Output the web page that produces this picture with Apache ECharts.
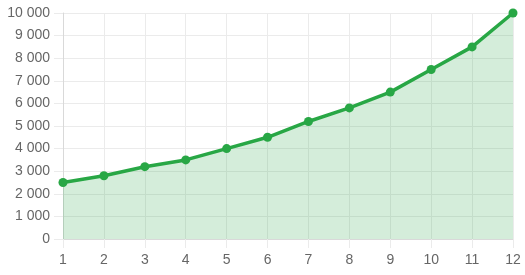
<!DOCTYPE html>
<html>
<head>
<meta charset="utf-8">
<script src="https://cdn.jsdelivr.net/npm/echarts@6/dist/echarts.min.js"></script>
<style>html,body{margin:0;padding:0;background:#fff;}#c{width:525px;height:275px;}</style>
</head>
<body>
<div id="c"></div>
<script>
const categories = ['1','2','3','4','5','6','7','8','9','10','11','12'];
const values = [2500, 2800, 3200, 3500, 4000, 4500, 5200, 5800, 6500, 7500, 8500, 10000];
const yMin = 0, yMax = 10000, yStep = 1000;

const gridColor = '#ebebeb';
const chart = echarts.init(document.getElementById('c'), null, {renderer: 'canvas'});
chart.setOption({
  animation: false,
  grid: {left: 63, right: 12, top: 13, bottom: 36, containLabel: false},
  xAxis: {
    type: 'category',
    data: categories,
    boundaryGap: false,
    axisLine: {show: true, lineStyle: {color: '#d9d9d9', width: 1}},
    axisTick: {show: true, length: 9, lineStyle: {color: gridColor}},
    splitLine: {show: true, lineStyle: {color: gridColor}},
    axisLabel: {color: '#666', fontSize: 14, fontFamily: 'Liberation Sans, Arial, sans-serif', margin: 14}
  },
  yAxis: {
    type: 'value',
    min: yMin, max: yMax, interval: yStep,
    axisLine: {show: true, lineStyle: {color: '#d9d9d9', width: 1}},
    axisTick: {show: true, length: 9, lineStyle: {color: gridColor}},
    splitLine: {show: true, lineStyle: {color: gridColor}},
    axisLabel: {
      color: '#666', fontSize: 14, fontFamily: 'Liberation Sans, Arial, sans-serif', margin: 13,
      formatter: v => String(v).replace(/\B(?=(\d{3})+(?!\d))/g, ' ')
    }
  },
  series: [{
    type: 'line',
    data: values,
    symbol: 'circle',
    symbolSize: 9,
    lineStyle: {color: '#28a745', width: 3.5},
    itemStyle: {color: '#28a745'},
    areaStyle: {color: 'rgba(40,167,69,0.2)', opacity: 1}
  }]
});
</script>
</body>
</html>
